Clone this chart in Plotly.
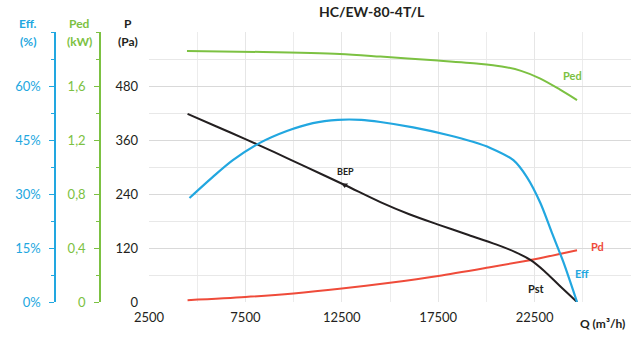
import plotly.graph_objects as go

# ---- data ----
q_pst = [4500, 6000, 7500, 9000, 10500, 12650, 14500, 16000, 17500, 19000, 20500, 21500, 22300, 23000, 23800, 24700]
p_pst = [418, 390, 362, 333, 303, 260, 222, 195, 172, 150, 128, 111, 93, 69, 36, 0]

q_eff = [4600, 5800, 6850, 8250, 9650, 11000, 12300, 13500, 14500, 16200, 18000, 19300, 20200, 21400, 22100, 22800, 23400, 24000, 24700]
eff = [28.9, 34.7, 39.4, 44.2, 47.5, 49.7, 50.6, 50.6, 50.0, 48.5, 46.4, 44.5, 42.8, 39.4, 34.7, 27.5, 19.2, 11.0, 0]

q_ped = [4470, 8400, 12400, 14500, 17300, 19600, 20800, 21800, 22800, 23800, 24700]
ped = [1.860, 1.852, 1.837, 1.818, 1.790, 1.765, 1.745, 1.712, 1.655, 1.575, 1.496]

q_pd = [4500, 7500, 10000, 12500, 15000, 17500, 20000, 22500, 24700]
pd_ = [4, 11, 19, 30, 43, 58, 76, 95, 115]

bep_q = [12650]
bep_p = [260]

x_ticks = [2500, 7500, 12500, 17500, 22500]
p_ticks = [0, 120, 240, 360, 480]
ped_ticks = [0, 0.4, 0.8, 1.2, 1.6]
ped_labels = ["0", "0,4", "0,8", "1,2", "1,6"]
eff_ticks = [0, 15, 30, 45, 60]
eff_labels = ["0%", "15%", "30%", "45%", "60%"]

BLUE = "#22a7e0"
GREEN = "#7cc142"
RED = "#ef4b3a"
BLACK = "#231f20"
FONT = "Lato"

W, H = 641, 338
fig = go.Figure()

fig.add_trace(go.Scatter(x=q_ped, y=ped, yaxis="y2", mode="lines",
                         line=dict(color=GREEN, width=2, shape="spline", smoothing=0.8)))
fig.add_trace(go.Scatter(x=q_eff, y=eff, yaxis="y3", mode="lines",
                         line=dict(color=BLUE, width=2.2, shape="spline", smoothing=0.8)))
fig.add_trace(go.Scatter(x=q_pd, y=pd_, yaxis="y", mode="lines",
                         line=dict(color=RED, width=2, shape="spline", smoothing=0.8)))
fig.add_trace(go.Scatter(x=q_pst, y=p_pst, yaxis="y", mode="lines",
                         line=dict(color=BLACK, width=2, shape="spline", smoothing=0.8)))
fig.add_trace(go.Scatter(x=bep_q, y=bep_p, yaxis="y", mode="markers",
                         marker=dict(color=BLACK, size=6, symbol="triangle-down")))

x0, x1 = 149 / W, 631 / W
y0, y1 = 1 - 302 / H, 1 - 32 / H

fig.update_layout(
    width=W, height=H,
    margin=dict(l=0, r=0, t=0, b=0),
    paper_bgcolor="white", plot_bgcolor="white",
    showlegend=False,
    font=dict(family=FONT, size=13, color=BLACK),
    xaxis=dict(range=[2500, 27500], domain=[x0, x1], tickmode="array",
               tickvals=x_ticks, ticktext=[str(v) for v in x_ticks],
               showgrid=True, gridcolor="#e6e6e6", gridwidth=1,
               minor=dict(dtick=2500, tick0=2500, showgrid=True, gridcolor="#ececec"),
               zeroline=False, showline=False, ticks="", automargin=False,
               ticklabelstandoff=6, tickfont=dict(size=13, color=BLACK)),
    yaxis=dict(range=[0, 600], domain=[y0, y1], tickmode="array",
               tickvals=p_ticks, ticktext=[str(v) for v in p_ticks],
               showgrid=True, gridcolor="#d9d9d9", gridwidth=1,
               minor=dict(dtick=60, tick0=0, showgrid=True, gridcolor="#e8e8e8"),
               zeroline=False, showline=False, ticks="", automargin=False,
               ticklabelstandoff=10, tickfont=dict(size=13, color=BLACK)),
    yaxis2=dict(range=[0, 2.0], overlaying="y", anchor="free", position=100 / W, side="left",
                tickmode="array", tickvals=ped_ticks, ticktext=ped_labels,
                showgrid=False, zeroline=False, showline=True, linecolor=GREEN, linewidth=1.5,
                ticks="outside", ticklen=5, tickcolor=GREEN, tickwidth=1,
                minor=dict(dtick=0.2, tick0=0, ticks="outside", ticklen=3, tickcolor=GREEN, showgrid=False),
                automargin=False, ticklabelstandoff=6, tickfont=dict(size=13, color=GREEN)),
    yaxis3=dict(range=[0, 75], overlaying="y", anchor="free", position=55 / W, side="left",
                tickmode="array", tickvals=eff_ticks, ticktext=eff_labels,
                showgrid=False, zeroline=False, showline=True, linecolor=BLUE, linewidth=1.5,
                ticks="outside", ticklen=5, tickcolor=BLUE, tickwidth=1,
                minor=dict(dtick=7.5, tick0=0, ticks="outside", ticklen=3, tickcolor=BLUE, showgrid=False),
                automargin=False, ticklabelstandoff=6, tickfont=dict(size=13, color=BLUE)),
)

def px_ann(text, x, y, color, size=12, bold=True, xanchor="center"):
    t = f"<b>{text}</b>" if bold else text
    fig.add_annotation(text=t, xref="paper", yref="paper", x=x / W, y=1 - y / H,
                       xanchor=xanchor, yanchor="middle", showarrow=False,
                       font=dict(family=FONT, size=size, color=color))

# title and axis titles
px_ann("HC/EW-80-4T/L", 372, 12, BLACK, size=14)
px_ann("Eff.", 28, 23, BLUE)
px_ann("(%)", 28, 42, BLUE)
px_ann("Ped", 79, 23, GREEN)
px_ann("(kW)", 79, 42, GREEN)
px_ann("P", 128, 23, BLACK)
px_ann("(Pa)", 128, 42, BLACK)
px_ann("Q (m³/h)", 578, 323, BLACK, size=12, xanchor="left")

# curve labels (data coordinates on the P axis)
def data_ann(text, q, p, color, size=11):
    fig.add_annotation(text=f"<b>{text}</b>", x=q, y=p, xref="x", yref="y",
                       showarrow=False, font=dict(family=FONT, size=size, color=color))

data_ann("Ped", 24470, 504, GREEN)
data_ann("Pd", 25760, 124, RED)
data_ann("Eff", 24940, 64, BLUE)
data_ann("Pst", 22600, 31, BLACK)
data_ann("BEP", 12700, 289, BLACK, size=9)

fig.write_html("out.html", config={"displayModeBar": False},
               post_script="document.body.style.margin='0px';")
